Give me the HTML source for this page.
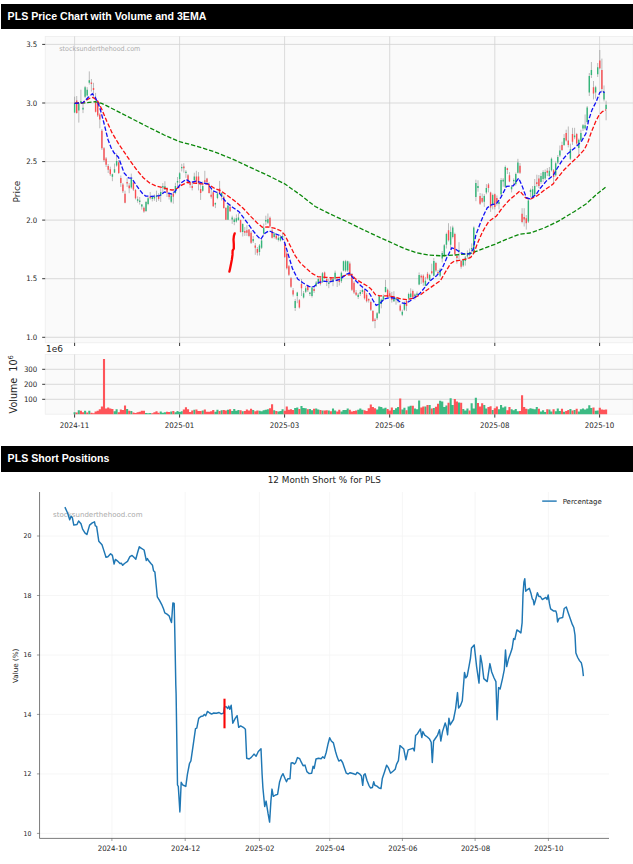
<!DOCTYPE html>
<html lang="en"><head><meta charset="utf-8"><title>PLS</title>
<style>
html,body{margin:0;padding:0;background:#fff;}
body{width:633px;height:864px;position:relative;overflow:hidden;font-family:"Liberation Sans",Arial,sans-serif;}
.hdr{position:absolute;left:1px;width:632px;height:24.6px;background:#000;color:#fff;font-weight:bold;font-size:10.6px;line-height:24.6px;box-sizing:border-box;padding-left:6.6px;white-space:nowrap;}
.h1{top:4px;height:25px;line-height:25px;}
.h2{top:446px;height:26px;line-height:25px;}
svg{position:absolute;left:0;display:block;}
.c1{top:30px;}
.c2{top:472px;}
</style></head><body>
<div class="hdr h1">PLS Price Chart with Volume and 3EMA</div>
<svg class="c1" width="633" height="410" viewBox="0 30 633 410" font-family="DejaVu Sans, Liberation Sans, sans-serif">
<rect x="45.2" y="36.4" width="587.8" height="306.4" fill="#fafafa" stroke="#ececec" stroke-width="0.7"/>
<rect x="45.2" y="354.5" width="587.8" height="59.7" fill="#fafafa" stroke="#ececec" stroke-width="0.7"/>
<path d="M74.6,36.4V342.8M74.6,354.5V414.2M179.6,36.4V342.8M179.6,354.5V414.2M284.6,36.4V342.8M284.6,354.5V414.2M389.7,36.4V342.8M389.7,354.5V414.2M494.8,36.4V342.8M494.8,354.5V414.2M599.6,36.4V342.8M599.6,354.5V414.2M45.2,44.4H633M45.2,103.0H633M45.2,161.6H633M45.2,220.1H633M45.2,278.7H633M45.2,337.3H633" stroke="#d2d2d2" stroke-width="0.8" fill="none"/>
<path d="M45.2,369.3H633M45.2,384.3H633M45.2,399.3H633" stroke="#e0e0e0" stroke-width="1.3" fill="none"/>
<path d="M74.6,342.8v3.2M74.6,414.2v3.4M179.6,342.8v3.2M179.6,414.2v3.4M284.6,342.8v3.2M284.6,414.2v3.4M389.7,342.8v3.2M389.7,414.2v3.4M494.8,342.8v3.2M494.8,414.2v3.4M599.6,342.8v3.2M599.6,414.2v3.4M45.2,44.4h-3M45.2,103.0h-3M45.2,161.6h-3M45.2,220.1h-3M45.2,278.7h-3M45.2,337.3h-3M45.2,369.3h-3M45.2,384.3h-3M45.2,399.3h-3" stroke="#151515" stroke-width="0.85" fill="none"/>
<text x="37.3" y="47.1" font-size="7.56" textLength="11.1" lengthAdjust="spacingAndGlyphs" text-anchor="end" fill="#262626">3.5</text>
<text x="37.3" y="105.7" font-size="7.56" textLength="11.1" lengthAdjust="spacingAndGlyphs" text-anchor="end" fill="#262626">3.0</text>
<text x="37.3" y="164.3" font-size="7.56" textLength="11.1" lengthAdjust="spacingAndGlyphs" text-anchor="end" fill="#262626">2.5</text>
<text x="37.3" y="222.8" font-size="7.56" textLength="11.1" lengthAdjust="spacingAndGlyphs" text-anchor="end" fill="#262626">2.0</text>
<text x="37.3" y="281.4" font-size="7.56" textLength="11.1" lengthAdjust="spacingAndGlyphs" text-anchor="end" fill="#262626">1.5</text>
<text x="37.3" y="340.0" font-size="7.56" textLength="11.1" lengthAdjust="spacingAndGlyphs" text-anchor="end" fill="#262626">1.0</text>
<text x="37.3" y="372.0" font-size="7.56" textLength="13.4" lengthAdjust="spacingAndGlyphs" text-anchor="end" fill="#262626">300</text>
<text x="37.3" y="387.0" font-size="7.56" textLength="13.4" lengthAdjust="spacingAndGlyphs" text-anchor="end" fill="#262626">200</text>
<text x="37.3" y="402.0" font-size="7.56" textLength="13.4" lengthAdjust="spacingAndGlyphs" text-anchor="end" fill="#262626">100</text>
<text x="74.6" y="428.0" font-size="7.61" textLength="29.5" lengthAdjust="spacingAndGlyphs" text-anchor="middle" fill="#262626">2024-11</text>
<text x="179.6" y="428.0" font-size="7.61" textLength="29.5" lengthAdjust="spacingAndGlyphs" text-anchor="middle" fill="#262626">2025-01</text>
<text x="284.6" y="428.0" font-size="7.61" textLength="29.5" lengthAdjust="spacingAndGlyphs" text-anchor="middle" fill="#262626">2025-03</text>
<text x="389.7" y="428.0" font-size="7.61" textLength="29.5" lengthAdjust="spacingAndGlyphs" text-anchor="middle" fill="#262626">2025-06</text>
<text x="494.8" y="428.0" font-size="7.61" textLength="29.5" lengthAdjust="spacingAndGlyphs" text-anchor="middle" fill="#262626">2025-08</text>
<text x="599.6" y="428.0" font-size="7.61" textLength="29.5" lengthAdjust="spacingAndGlyphs" text-anchor="middle" fill="#262626">2025-10</text>
<text x="46" y="352" font-size="9" fill="#262626">1e6</text>
<text transform="translate(20,191.6) rotate(-90)" font-size="9" text-anchor="middle" fill="#262626">Price</text>
<text transform="translate(16.5,384.3) rotate(-90)" font-size="9.6" text-anchor="middle" fill="#262626" xml:space="preserve">Volume  10<tspan dy="-3.6" font-size="6.7">6</tspan></text>
<text x="59.3" y="50.6" font-size="6.9" textLength="81" lengthAdjust="spacingAndGlyphs" fill="#adadad">stocksunderthehood.com</text>
<path d="M74.6,96.7V113.1M76.7,96.0V113.7M78.8,103.0V122.6M80.9,89.7V104.0M83.0,103.6V113.1M85.1,85.9V98.0M87.2,87.2V96.7M89.3,71.4V84.6M91.4,79.0V91.6M93.5,82.8V96.7M95.6,92.9V112.5M97.7,102.0V117.0M99.8,113.0V128.3M101.9,129.0V150.0M104.0,147.0V162.0M106.1,157.0V167.0M108.2,164.0V173.0M110.3,166.7V176.0M112.4,173.6V181.2M114.5,163.5V173.0M116.6,153.4V166.7M118.7,160.0V174.0M120.8,175.5V186.9M122.9,183.0V193.0M125.0,190.7V203.3M127.1,178.0V186.9M129.2,183.1V193.2M131.3,173.6V188.8M133.4,181.0V191.0M135.5,189.0V199.5M137.6,196.4V202.7M139.7,197.0V204.6M141.8,204.0V209.6M143.9,206.5V212.8M146.0,201.0V212.0M148.1,197.0V205.2M150.2,192.0V199.5M152.3,195.7V201.4M154.4,194.5V200.8M156.5,190.7V202.0M158.6,193.2V200.8M160.7,188.2V202.0M162.8,183.1V193.2M164.9,181.2V190.0M167.0,187.0V197.0M169.1,192.0V199.5M171.2,192.9V203.1M173.3,191.7V203.7M175.4,182.8V194.2M177.5,177.0V188.0M179.6,172.1V183.4M181.7,163.8V171.4M183.8,163.2V172.7M185.9,170.2V177.8M188.0,174.0V183.4M190.1,182.8V187.9M192.2,182.2V190.4M194.3,172.7V180.9M196.4,170.8V183.4M198.5,172.1V190.4M200.6,183.4V199.9M202.7,181.5V191.7M204.8,170.8V183.4M207.0,177.8V183.4M209.1,182.2V193.6M211.2,189.1V198.6M213.3,191.0V206.8M215.4,202.4V208.1M217.5,191.7V199.2M219.6,180.9V192.9M221.7,192.3V200.5M223.8,195.5V208.7M225.9,207.0V220.0M228.0,203.7V220.0M230.1,204.3V211.9M232.2,215.7V223.9M234.3,217.6V225.2M236.4,214.4V222.6M238.5,213.2V220.7M240.6,219.5V232.7M242.7,223.3V236.5M244.8,227.1V235.9M246.9,225.2V235.9M249.0,229.0V237.2M251.1,231.0V244.0M253.2,236.0V243.0M255.3,243.0V254.8M257.4,247.0V255.5M259.5,244.0V255.5M261.6,239.0V249.0M263.7,223.5V234.9M265.8,215.7V224.9M267.9,213.5V224.0M270.0,216.5V227.5M272.1,229.0V238.5M274.2,232.0V238.5M276.3,234.0V239.9M278.4,236.0V241.5M280.5,235.0V241.5M282.6,232.7V239.1M284.7,242.0V258.0M286.8,252.0V269.5M288.9,265.0V276.0M291.0,277.0V288.0M293.1,288.0V296.5M295.2,298.9V311.0M297.3,291.8V303.2M299.4,299.0V308.5M301.5,279.0V296.0M303.6,291.0V298.5M305.7,286.0V293.0M307.8,285.0V292.0M309.9,291.8V296.0M312.0,286.0V297.5M314.1,287.0V293.0M316.2,281.0V287.0M318.3,277.5V284.0M320.4,277.0V285.5M322.5,272.0V283.0M324.6,271.5V279.0M326.7,277.5V286.1M328.8,279.0V288.2M330.9,277.5V282.5M333.0,278.4V286.2M335.1,270.6V280.0M337.2,278.4V287.0M339.3,278.4V285.5M341.4,271.5V283.0M343.5,260.6V271.3M345.6,259.9V272.0M347.7,260.6V272.0M349.8,261.5V275.0M351.9,273.0V291.0M354.0,281.0V294.0M356.1,290.0V296.0M358.2,293.0V299.0M360.3,290.0V296.0M362.4,288.4V294.0M364.5,289.0V299.5M366.6,293.0V302.5M368.7,298.3V302.6M370.8,300.5V311.0M372.9,310.0V322.0M375.0,318.0V328.2M377.1,312.0V320.0M379.2,295.0V314.0M381.3,298.5V308.3M383.4,294.5V301.0M385.5,279.8V292.6M387.6,288.5V298.0M389.7,291.2V298.0M391.8,291.9V302.6M393.9,291.2V302.0M396.0,296.9V304.7M398.1,297.5V303.0M400.2,304.0V311.5M402.3,309.7V316.1M404.4,301.5V311.0M406.5,300.0V311.1M408.6,292.7V302.2M410.7,288.3V297.8M412.8,289.5V298.3M414.9,293.4V299.7M417.0,291.5V296.5M419.1,272.5V285.2M421.2,274.4V283.9M423.3,274.4V285.8M425.4,276.9V286.4M427.5,271.9V279.5M429.6,273.8V281.4M431.7,263.7V274.4M433.8,258.0V276.3M435.9,261.8V271.9M438.0,270.0V275.0M440.1,268.0V277.0M442.2,251.0V262.4M444.3,244.0V257.0M446.4,232.7V248.5M448.5,223.2V241.5M450.6,226.4V249.8M452.7,225.7V238.4M454.8,232.7V255.5M456.9,254.2V263.7M459.0,242.2V259.2M461.1,259.9V268.7M463.2,258.6V267.0M465.3,256.0V265.6M467.4,250.4V258.6M469.6,248.5V256.7M471.7,243.4V252.9M473.8,226.4V252.5M475.9,179.7V201.2M478.0,180.3V191.7M480.1,193.0V205.0M482.2,193.6V203.1M484.3,194.2V206.9M486.4,184.1V194.2M488.5,183.1V192.4M490.6,191.7V211.9M492.7,193.6V209.4M494.8,193.6V209.4M496.9,195.5V205.6M499.0,200.6V209.4M501.1,178.0V196.0M503.2,178.0V186.7M505.3,165.5V188.0M507.4,167.7V174.0M509.5,172.1V182.2M511.6,185.4V192.4M513.7,178.4V186.0M515.8,172.5V185.5M517.9,158.8V173.5M520.0,163.0V174.0M522.1,208.2V223.3M524.2,208.2V226.5M526.3,215.0V229.6M528.4,199.0V223.0M530.5,188.6V197.4M532.6,186.0V198.0M534.7,179.0V195.5M536.8,174.7V186.7M538.9,175.0V188.0M541.0,173.0V184.0M543.1,170.2V182.2M545.2,169.5V180.0M547.3,168.0V176.0M549.4,167.0V177.0M551.5,157.5V171.5M553.6,169.0V182.2M555.7,161.5V176.5M557.8,155.0V164.0M559.9,145.5V157.0M562.0,141.7V151.0M564.1,134.1V146.0M566.2,129.7V141.5M568.3,126.5V147.4M570.4,143.6V160.0M572.5,127.8V144.9M574.6,127.8V139.2M576.7,132.9V145.0M578.8,138.5V155.6M580.9,129.7V141.5M583.0,124.0V131.0M585.1,114.5V130.0M587.2,106.0V123.5M589.3,73.0V96.0M591.4,62.0V78.0M593.5,81.0V99.4M595.6,85.8V98.6M597.7,63.0V77.0M599.8,50.0V69.2M601.9,58.6V92.0M604.0,85.5V101.4M606.1,100.7V120.3" stroke="#7c7c7c" stroke-width="0.5" fill="none"/>
<path d="M73.90,103.6h1.4V112.5h-1.4zM78.10,103.6h1.4V110.6h-1.4zM80.20,101.0h1.4V103.0h-1.4zM82.30,107.8h1.4V109.6h-1.4zM84.40,87.2h1.4V96.7h-1.4zM86.50,89.7h1.4V95.4h-1.4zM88.61,80.2h1.4V82.8h-1.4zM111.71,174.2h1.4V176.8h-1.4zM113.82,169.2h1.4V172.4h-1.4zM115.92,161.0h1.4V165.4h-1.4zM130.62,178.7h1.4V187.5h-1.4zM136.92,199.3h1.4V200.8h-1.4zM139.02,200.5h1.4V202.0h-1.4zM141.13,204.6h1.4V206.5h-1.4zM145.33,202.0h1.4V210.9h-1.4zM147.43,198.3h1.4V204.0h-1.4zM151.63,197.0h1.4V198.9h-1.4zM153.73,197.0h1.4V198.5h-1.4zM155.83,195.5h1.4V197.0h-1.4zM160.03,192.0h1.4V195.7h-1.4zM162.13,186.0h1.4V187.5h-1.4zM164.23,186.3h1.4V189.4h-1.4zM170.54,195.5h1.4V201.8h-1.4zM174.74,186.0h1.4V192.9h-1.4zM176.84,181.0h1.4V182.5h-1.4zM178.94,173.3h1.4V179.0h-1.4zM181.04,167.0h1.4V168.3h-1.4zM185.24,171.8h1.4V173.0h-1.4zM193.65,176.5h1.4V180.3h-1.4zM202.05,186.0h1.4V190.7h-1.4zM214.65,203.0h1.4V204.5h-1.4zM216.75,193.6h1.4V198.0h-1.4zM220.96,193.0h1.4V196.7h-1.4zM227.26,205.6h1.4V219.7h-1.4zM231.46,217.6h1.4V219.5h-1.4zM233.56,219.5h1.4V222.0h-1.4zM235.66,218.2h1.4V221.4h-1.4zM237.76,217.6h1.4V220.1h-1.4zM241.96,223.9h1.4V232.1h-1.4zM252.47,239.1h1.4V241.3h-1.4zM258.77,245.5h1.4V252.0h-1.4zM260.87,240.6h1.4V247.7h-1.4zM262.97,227.8h1.4V233.4h-1.4zM265.07,220.0h1.4V221.5h-1.4zM267.17,219.2h1.4V222.8h-1.4zM273.48,233.4h1.4V237.0h-1.4zM277.68,237.7h1.4V239.9h-1.4zM279.78,237.0h1.4V240.6h-1.4zM281.88,236.0h1.4V237.5h-1.4zM294.48,301.0h1.4V308.1h-1.4zM296.58,292.5h1.4V296.0h-1.4zM302.89,293.2h1.4V297.5h-1.4zM304.99,288.2h1.4V291.8h-1.4zM309.19,292.5h1.4V294.0h-1.4zM311.29,287.5h1.4V296.0h-1.4zM315.49,282.5h1.4V285.4h-1.4zM317.59,279.0h1.4V282.5h-1.4zM321.79,273.3h1.4V281.8h-1.4zM328.10,282.5h1.4V284.0h-1.4zM332.30,279.0h1.4V281.5h-1.4zM334.40,272.7h1.4V278.4h-1.4zM340.70,272.7h1.4V281.2h-1.4zM342.80,261.3h1.4V270.6h-1.4zM344.90,261.3h1.4V270.6h-1.4zM347.00,261.3h1.4V270.6h-1.4zM357.51,294.8h1.4V296.9h-1.4zM359.61,291.9h1.4V294.0h-1.4zM361.71,290.0h1.4V292.0h-1.4zM376.42,313.2h1.4V318.2h-1.4zM378.52,296.2h1.4V313.2h-1.4zM380.62,299.8h1.4V304.0h-1.4zM382.72,296.2h1.4V299.8h-1.4zM384.82,286.9h1.4V291.9h-1.4zM393.22,297.6h1.4V301.2h-1.4zM395.32,298.0h1.4V299.5h-1.4zM397.42,299.0h1.4V301.2h-1.4zM401.62,311.8h1.4V314.7h-1.4zM403.73,302.6h1.4V309.7h-1.4zM407.93,294.0h1.4V298.4h-1.4zM410.03,293.4h1.4V297.2h-1.4zM414.23,294.6h1.4V296.0h-1.4zM416.33,293.4h1.4V295.3h-1.4zM418.43,275.0h1.4V284.5h-1.4zM424.73,280.7h1.4V285.8h-1.4zM428.94,275.0h1.4V280.1h-1.4zM433.14,261.1h1.4V275.7h-1.4zM439.44,269.4h1.4V275.7h-1.4zM441.54,252.9h1.4V258.6h-1.4zM443.64,245.3h1.4V255.5h-1.4zM445.74,234.0h1.4V244.7h-1.4zM449.94,232.1h1.4V244.7h-1.4zM452.04,227.6h1.4V237.1h-1.4zM458.35,250.0h1.4V251.5h-1.4zM462.55,259.9h1.4V265.6h-1.4zM464.65,257.4h1.4V261.1h-1.4zM466.75,255.0h1.4V256.5h-1.4zM468.85,252.0h1.4V253.5h-1.4zM470.95,248.0h1.4V249.5h-1.4zM473.05,227.6h1.4V251.7h-1.4zM475.15,183.1h1.4V197.0h-1.4zM477.25,186.0h1.4V188.0h-1.4zM483.56,196.1h1.4V201.8h-1.4zM485.66,187.9h1.4V192.4h-1.4zM491.96,194.9h1.4V204.4h-1.4zM498.26,202.0h1.4V204.0h-1.4zM500.36,180.1h1.4V194.2h-1.4zM502.46,179.7h1.4V181.5h-1.4zM504.56,167.1h1.4V186.7h-1.4zM510.87,186.7h1.4V189.2h-1.4zM512.97,180.0h1.4V181.2h-1.4zM515.07,174.0h1.4V184.1h-1.4zM517.17,162.6h1.4V172.8h-1.4zM527.67,200.6h1.4V221.4h-1.4zM529.77,190.0h1.4V192.0h-1.4zM531.87,189.2h1.4V196.8h-1.4zM533.98,186.0h1.4V194.2h-1.4zM540.28,176.0h1.4V182.0h-1.4zM542.38,172.1h1.4V179.0h-1.4zM544.48,172.1h1.4V178.4h-1.4zM548.68,170.8h1.4V175.9h-1.4zM550.78,158.8h1.4V170.2h-1.4zM554.98,163.2h1.4V175.2h-1.4zM557.08,156.9h1.4V162.6h-1.4zM559.18,150.6h1.4V155.6h-1.4zM563.39,137.9h1.4V144.9h-1.4zM569.69,149.3h1.4V158.8h-1.4zM573.89,135.4h1.4V137.3h-1.4zM578.09,139.8h1.4V148.0h-1.4zM580.19,132.9h1.4V140.5h-1.4zM582.29,125.3h1.4V128.4h-1.4zM584.39,125.3h1.4V128.4h-1.4zM586.50,107.6h1.4V122.1h-1.4zM588.60,76.0h1.4V92.5h-1.4zM590.70,70.0h1.4V75.0h-1.4zM594.90,87.3h1.4V92.5h-1.4zM597.00,67.3h1.4V74.3h-1.4zM603.30,91.6h1.4V99.4h-1.4zM605.40,104.7h1.4V109.0h-1.4z" fill="#33b679"/>
<path d="M76.00,100.5h1.4V113.1h-1.4zM90.71,82.5h1.4V84.0h-1.4zM92.81,88.0h1.4V90.0h-1.4zM94.91,101.7h1.4V111.8h-1.4zM97.01,103.6h1.4V115.6h-1.4zM99.11,114.4h1.4V119.4h-1.4zM101.21,130.8h1.4V148.3h-1.4zM103.31,148.3h1.4V160.3h-1.4zM105.41,158.4h1.4V164.8h-1.4zM107.51,166.0h1.4V169.8h-1.4zM109.61,169.2h1.4V174.2h-1.4zM118.02,162.2h1.4V173.0h-1.4zM120.12,178.0h1.4V183.1h-1.4zM122.22,184.4h1.4V191.3h-1.4zM124.32,193.8h1.4V202.7h-1.4zM126.42,182.0h1.4V183.5h-1.4zM128.52,185.6h1.4V188.2h-1.4zM132.72,182.5h1.4V189.4h-1.4zM134.82,190.0h1.4V198.3h-1.4zM143.23,207.7h1.4V211.5h-1.4zM149.53,196.4h1.4V198.3h-1.4zM157.93,195.7h1.4V198.9h-1.4zM166.34,188.2h1.4V192.6h-1.4zM168.44,193.2h1.4V197.0h-1.4zM172.64,193.6h1.4V196.7h-1.4zM183.14,166.4h1.4V168.3h-1.4zM187.34,175.2h1.4V182.2h-1.4zM189.44,183.5h1.4V185.0h-1.4zM191.54,186.0h1.4V188.1h-1.4zM195.75,176.5h1.4V182.2h-1.4zM197.85,176.5h1.4V183.4h-1.4zM199.95,189.1h1.4V192.9h-1.4zM204.15,180.3h1.4V182.2h-1.4zM206.25,178.4h1.4V182.2h-1.4zM208.35,184.7h1.4V192.9h-1.4zM210.45,194.8h1.4V196.7h-1.4zM212.55,192.3h1.4V206.2h-1.4zM218.86,188.5h1.4V192.9h-1.4zM223.06,196.7h1.4V208.1h-1.4zM225.16,208.1h1.4V219.7h-1.4zM229.36,206.8h1.4V211.3h-1.4zM239.86,220.1h1.4V232.1h-1.4zM244.06,230.9h1.4V232.7h-1.4zM246.17,230.2h1.4V232.7h-1.4zM248.27,229.6h1.4V235.9h-1.4zM250.37,232.7h1.4V242.7h-1.4zM254.57,245.5h1.4V247.7h-1.4zM256.67,249.1h1.4V252.7h-1.4zM269.27,217.8h1.4V226.3h-1.4zM271.38,230.6h1.4V237.7h-1.4zM275.58,235.6h1.4V238.4h-1.4zM283.98,243.4h1.4V256.9h-1.4zM286.08,253.4h1.4V268.3h-1.4zM288.18,266.2h1.4V274.7h-1.4zM290.28,278.2h1.4V286.8h-1.4zM292.38,290.3h1.4V294.6h-1.4zM298.69,300.3h1.4V307.4h-1.4zM300.79,283.9h1.4V288.2h-1.4zM307.09,286.1h1.4V290.3h-1.4zM313.39,288.9h1.4V291.0h-1.4zM319.69,278.2h1.4V284.0h-1.4zM323.90,272.6h1.4V277.5h-1.4zM326.00,279.0h1.4V281.0h-1.4zM330.20,278.2h1.4V280.4h-1.4zM336.50,279.0h1.4V281.0h-1.4zM338.60,279.5h1.4V282.0h-1.4zM349.10,263.5h1.4V274.1h-1.4zM351.21,274.1h1.4V289.8h-1.4zM353.31,282.7h1.4V292.6h-1.4zM355.41,292.6h1.4V294.8h-1.4zM363.81,290.5h1.4V298.3h-1.4zM365.91,294.8h1.4V301.2h-1.4zM368.01,299.0h1.4V300.5h-1.4zM370.11,301.9h1.4V309.7h-1.4zM372.21,311.1h1.4V321.1h-1.4zM374.31,319.5h1.4V321.0h-1.4zM386.92,289.8h1.4V296.9h-1.4zM389.02,293.3h1.4V296.2h-1.4zM391.12,296.9h1.4V299.8h-1.4zM399.52,305.4h1.4V310.4h-1.4zM405.83,301.0h1.4V306.0h-1.4zM412.13,290.9h1.4V297.2h-1.4zM420.53,275.7h1.4V277.6h-1.4zM422.63,275.7h1.4V282.6h-1.4zM426.83,273.8h1.4V278.2h-1.4zM431.04,271.3h1.4V273.2h-1.4zM435.24,263.0h1.4V270.6h-1.4zM437.34,271.9h1.4V273.2h-1.4zM447.84,230.2h1.4V240.3h-1.4zM454.14,234.0h1.4V254.2h-1.4zM456.25,256.1h1.4V258.0h-1.4zM460.45,261.1h1.4V266.8h-1.4zM479.35,196.1h1.4V203.7h-1.4zM481.46,198.0h1.4V201.8h-1.4zM487.76,184.4h1.4V187.9h-1.4zM489.86,192.4h1.4V207.5h-1.4zM494.06,194.2h1.4V206.9h-1.4zM496.16,198.0h1.4V202.5h-1.4zM506.66,168.3h1.4V170.0h-1.4zM508.77,175.3h1.4V181.6h-1.4zM519.27,165.8h1.4V172.8h-1.4zM521.37,213.8h1.4V222.1h-1.4zM523.47,217.0h1.4V219.5h-1.4zM525.57,218.3h1.4V223.3h-1.4zM536.08,182.2h1.4V184.1h-1.4zM538.18,178.4h1.4V186.0h-1.4zM546.58,170.8h1.4V172.7h-1.4zM552.88,170.2h1.4V177.1h-1.4zM561.29,144.9h1.4V149.9h-1.4zM565.49,132.9h1.4V140.5h-1.4zM567.59,140.5h1.4V144.9h-1.4zM571.79,134.1h1.4V141.7h-1.4zM575.99,134.1h1.4V143.6h-1.4zM592.80,87.3h1.4V93.4h-1.4zM599.10,60.4h1.4V68.2h-1.4zM601.20,70.0h1.4V89.0h-1.4z" fill="#fc4e52"/>
<path d="M73.55,414.2v-1.9h2.1v1.9zM77.75,414.2v-3.9h2.1v3.9zM84.05,414.2v-3.5h2.1v3.5zM88.26,414.2v-3.5h2.1v3.5zM113.47,414.2v-3.0h2.1v3.0zM115.57,414.2v-5.0h2.1v5.0zM126.07,414.2v-5.3h2.1v5.3zM130.27,414.2v-3.2h2.1v3.2zM144.98,414.2v-1.3h2.1v1.3zM147.08,414.2v-0.9h2.1v0.9zM149.18,414.2v-1.3h2.1v1.3zM159.68,414.2v-2.6h2.1v2.6zM161.78,414.2v-1.5h2.1v1.5zM163.88,414.2v-2.0h2.1v2.0zM170.19,414.2v-2.7h2.1v2.7zM174.39,414.2v-2.0h2.1v2.0zM176.49,414.2v-3.2h2.1v3.2zM178.59,414.2v-2.3h2.1v2.3zM180.69,414.2v-2.9h2.1v2.9zM193.30,414.2v-4.5h2.1v4.5zM201.70,414.2v-3.7h2.1v3.7zM214.30,414.2v-2.4h2.1v2.4zM216.40,414.2v-4.5h2.1v4.5zM220.61,414.2v-4.0h2.1v4.0zM226.91,414.2v-4.5h2.1v4.5zM231.11,414.2v-3.3h2.1v3.3zM233.21,414.2v-5.3h2.1v5.3zM235.31,414.2v-3.4h2.1v3.4zM237.41,414.2v-4.3h2.1v4.3zM241.61,414.2v-3.0h2.1v3.0zM252.12,414.2v-4.1h2.1v4.1zM258.42,414.2v-3.4h2.1v3.4zM260.52,414.2v-2.9h2.1v2.9zM262.62,414.2v-4.0h2.1v4.0zM264.72,414.2v-4.4h2.1v4.4zM266.82,414.2v-5.0h2.1v5.0zM273.13,414.2v-3.9h2.1v3.9zM277.33,414.2v-2.8h2.1v2.8zM279.43,414.2v-3.1h2.1v3.1zM281.53,414.2v-4.9h2.1v4.9zM294.13,414.2v-6.2h2.1v6.2zM296.23,414.2v-6.6h2.1v6.6zM300.44,414.2v-8.2h2.1v8.2zM302.54,414.2v-6.3h2.1v6.3zM304.64,414.2v-6.0h2.1v6.0zM308.84,414.2v-5.1h2.1v5.1zM310.94,414.2v-4.0h2.1v4.0zM315.14,414.2v-5.6h2.1v5.6zM317.24,414.2v-4.6h2.1v4.6zM321.44,414.2v-3.7h2.1v3.7zM327.75,414.2v-3.7h2.1v3.7zM331.95,414.2v-5.7h2.1v5.7zM334.05,414.2v-3.8h2.1v3.8zM340.35,414.2v-2.7h2.1v2.7zM342.45,414.2v-4.3h2.1v4.3zM344.55,414.2v-4.2h2.1v4.2zM346.65,414.2v-5.6h2.1v5.6zM357.16,414.2v-4.5h2.1v4.5zM359.26,414.2v-5.6h2.1v5.6zM361.36,414.2v-4.4h2.1v4.4zM376.07,414.2v-4.7h2.1v4.7zM378.17,414.2v-7.6h2.1v7.6zM380.27,414.2v-7.2h2.1v7.2zM382.37,414.2v-5.7h2.1v5.7zM384.47,414.2v-6.4h2.1v6.4zM392.87,414.2v-4.3h2.1v4.3zM394.97,414.2v-5.9h2.1v5.9zM397.07,414.2v-7.1h2.1v7.1zM401.27,414.2v-4.7h2.1v4.7zM403.38,414.2v-6.5h2.1v6.5zM407.58,414.2v-7.8h2.1v7.8zM409.68,414.2v-8.5h2.1v8.5zM413.88,414.2v-5.6h2.1v5.6zM415.98,414.2v-5.0h2.1v5.0zM418.08,414.2v-13.6h2.1v13.6zM424.38,414.2v-7.8h2.1v7.8zM428.59,414.2v-9.2h2.1v9.2zM432.79,414.2v-6.2h2.1v6.2zM439.09,414.2v-13.5h2.1v13.5zM441.19,414.2v-12.8h2.1v12.8zM443.29,414.2v-7.3h2.1v7.3zM445.39,414.2v-8.8h2.1v8.8zM449.59,414.2v-15.9h2.1v15.9zM451.69,414.2v-9.2h2.1v9.2zM458.00,414.2v-11.8h2.1v11.8zM462.20,414.2v-5.2h2.1v5.2zM464.30,414.2v-3.8h2.1v3.8zM466.40,414.2v-5.7h2.1v5.7zM470.60,414.2v-11.0h2.1v11.0zM472.70,414.2v-5.6h2.1v5.6zM474.80,414.2v-16.5h2.1v16.5zM483.21,414.2v-9.2h2.1v9.2zM485.31,414.2v-5.7h2.1v5.7zM491.61,414.2v-4.3h2.1v4.3zM497.91,414.2v-5.0h2.1v5.0zM500.01,414.2v-9.1h2.1v9.1zM502.11,414.2v-6.6h2.1v6.6zM504.21,414.2v-7.8h2.1v7.8zM510.52,414.2v-5.0h2.1v5.0zM512.62,414.2v-4.0h2.1v4.0zM514.72,414.2v-5.1h2.1v5.1zM516.82,414.2v-2.9h2.1v2.9zM527.32,414.2v-5.0h2.1v5.0zM529.42,414.2v-5.9h2.1v5.9zM531.52,414.2v-5.4h2.1v5.4zM533.63,414.2v-5.0h2.1v5.0zM535.73,414.2v-7.3h2.1v7.3zM539.93,414.2v-2.7h2.1v2.7zM542.03,414.2v-4.0h2.1v4.0zM544.13,414.2v-2.3h2.1v2.3zM548.33,414.2v-4.7h2.1v4.7zM550.43,414.2v-2.7h2.1v2.7zM554.63,414.2v-2.9h2.1v2.9zM556.73,414.2v-5.8h2.1v5.8zM558.83,414.2v-3.1h2.1v3.1zM563.04,414.2v-2.5h2.1v2.5zM569.34,414.2v-5.1h2.1v5.1zM573.54,414.2v-4.3h2.1v4.3zM577.74,414.2v-2.6h2.1v2.6zM579.84,414.2v-5.0h2.1v5.0zM581.94,414.2v-5.6h2.1v5.6zM584.04,414.2v-4.8h2.1v4.8zM586.15,414.2v-5.6h2.1v5.6zM588.25,414.2v-9.0h2.1v9.0zM590.35,414.2v-6.1h2.1v6.1zM594.55,414.2v-3.5h2.1v3.5zM596.65,414.2v-3.6h2.1v3.6z" fill="#3cba83"/>
<path d="M75.65,414.2v-1.6h2.1v1.6zM79.85,414.2v-3.5h2.1v3.5zM81.95,414.2v-1.9h2.1v1.9zM86.15,414.2v-1.6h2.1v1.6zM90.36,414.2v-1.4h2.1v1.4zM92.46,414.2v-1.0h2.1v1.0zM94.56,414.2v-2.8h2.1v2.8zM96.66,414.2v-3.5h2.1v3.5zM98.76,414.2v-5.0h2.1v5.0zM100.86,414.2v-7.6h2.1v7.6zM102.96,414.2v-55.3h2.1v55.3zM105.06,414.2v-5.6h2.1v5.6zM107.16,414.2v-6.6h2.1v6.6zM109.26,414.2v-5.6h2.1v5.6zM111.36,414.2v-5.2h2.1v5.2zM117.67,414.2v-2.0h2.1v2.0zM119.77,414.2v-4.6h2.1v4.6zM121.87,414.2v-4.2h2.1v4.2zM123.97,414.2v-8.7h2.1v8.7zM128.17,414.2v-3.4h2.1v3.4zM132.37,414.2v-1.6h2.1v1.6zM134.47,414.2v-1.3h2.1v1.3zM136.57,414.2v-1.9h2.1v1.9zM138.67,414.2v-2.4h2.1v2.4zM140.78,414.2v-3.4h2.1v3.4zM142.88,414.2v-3.4h2.1v3.4zM151.28,414.2v-0.9h2.1v0.9zM153.38,414.2v-1.9h2.1v1.9zM155.48,414.2v-3.0h2.1v3.0zM157.58,414.2v-1.5h2.1v1.5zM165.99,414.2v-2.5h2.1v2.5zM168.09,414.2v-2.3h2.1v2.3zM172.29,414.2v-3.2h2.1v3.2zM182.79,414.2v-4.6h2.1v4.6zM184.89,414.2v-6.9h2.1v6.9zM186.99,414.2v-4.9h2.1v4.9zM189.09,414.2v-2.3h2.1v2.3zM191.19,414.2v-3.8h2.1v3.8zM195.40,414.2v-4.6h2.1v4.6zM197.50,414.2v-3.2h2.1v3.2zM199.60,414.2v-3.2h2.1v3.2zM203.80,414.2v-4.6h2.1v4.6zM205.90,414.2v-2.4h2.1v2.4zM208.00,414.2v-2.4h2.1v2.4zM210.10,414.2v-3.0h2.1v3.0zM212.20,414.2v-4.3h2.1v4.3zM218.51,414.2v-3.1h2.1v3.1zM222.71,414.2v-4.3h2.1v4.3zM224.81,414.2v-3.6h2.1v3.6zM229.01,414.2v-5.0h2.1v5.0zM239.51,414.2v-3.9h2.1v3.9zM243.71,414.2v-3.3h2.1v3.3zM245.82,414.2v-4.8h2.1v4.8zM247.92,414.2v-3.7h2.1v3.7zM250.02,414.2v-5.5h2.1v5.5zM254.22,414.2v-3.0h2.1v3.0zM256.32,414.2v-3.8h2.1v3.8zM268.92,414.2v-6.0h2.1v6.0zM271.03,414.2v-10.0h2.1v10.0zM275.23,414.2v-3.3h2.1v3.3zM283.63,414.2v-3.5h2.1v3.5zM285.73,414.2v-7.6h2.1v7.6zM287.83,414.2v-4.4h2.1v4.4zM289.93,414.2v-4.9h2.1v4.9zM292.03,414.2v-4.2h2.1v4.2zM298.34,414.2v-5.1h2.1v5.1zM306.74,414.2v-4.9h2.1v4.9zM313.04,414.2v-5.4h2.1v5.4zM319.34,414.2v-4.2h2.1v4.2zM323.55,414.2v-3.6h2.1v3.6zM325.65,414.2v-3.9h2.1v3.9zM329.85,414.2v-3.0h2.1v3.0zM336.15,414.2v-2.7h2.1v2.7zM338.25,414.2v-4.4h2.1v4.4zM348.75,414.2v-4.4h2.1v4.4zM350.86,414.2v-2.6h2.1v2.6zM352.96,414.2v-3.1h2.1v3.1zM355.06,414.2v-3.6h2.1v3.6zM363.46,414.2v-4.0h2.1v4.0zM365.56,414.2v-3.3h2.1v3.3zM367.66,414.2v-5.9h2.1v5.9zM369.76,414.2v-9.8h2.1v9.8zM371.86,414.2v-7.3h2.1v7.3zM373.96,414.2v-5.9h2.1v5.9zM386.57,414.2v-5.3h2.1v5.3zM388.67,414.2v-3.8h2.1v3.8zM390.77,414.2v-6.6h2.1v6.6zM399.17,414.2v-15.6h2.1v15.6zM405.48,414.2v-3.9h2.1v3.9zM411.78,414.2v-8.4h2.1v8.4zM420.18,414.2v-6.8h2.1v6.8zM422.28,414.2v-7.8h2.1v7.8zM426.48,414.2v-9.2h2.1v9.2zM430.69,414.2v-5.8h2.1v5.8zM434.89,414.2v-7.5h2.1v7.5zM436.99,414.2v-10.5h2.1v10.5zM447.49,414.2v-11.4h2.1v11.4zM453.79,414.2v-15.2h2.1v15.2zM455.90,414.2v-12.8h2.1v12.8zM460.10,414.2v-11.4h2.1v11.4zM468.50,414.2v-3.8h2.1v3.8zM476.90,414.2v-11.3h2.1v11.3zM479.00,414.2v-7.6h2.1v7.6zM481.11,414.2v-11.0h2.1v11.0zM487.41,414.2v-7.1h2.1v7.1zM489.51,414.2v-8.0h2.1v8.0zM493.71,414.2v-5.9h2.1v5.9zM495.81,414.2v-7.8h2.1v7.8zM506.31,414.2v-4.0h2.1v4.0zM508.42,414.2v-7.1h2.1v7.1zM518.92,414.2v-3.3h2.1v3.3zM521.02,414.2v-18.9h2.1v18.9zM523.12,414.2v-7.3h2.1v7.3zM525.22,414.2v-5.4h2.1v5.4zM537.83,414.2v-5.4h2.1v5.4zM546.23,414.2v-4.9h2.1v4.9zM552.53,414.2v-4.9h2.1v4.9zM560.94,414.2v-5.5h2.1v5.5zM565.14,414.2v-3.2h2.1v3.2zM567.24,414.2v-4.2h2.1v4.2zM571.44,414.2v-3.6h2.1v3.6zM575.64,414.2v-5.4h2.1v5.4zM592.45,414.2v-6.6h2.1v6.6zM598.75,414.2v-6.5h2.1v6.5zM600.85,414.2v-4.6h2.1v4.6zM602.95,414.2v-4.4h2.1v4.4zM605.05,414.2v-4.8h2.1v4.8z" fill="#fe5459"/>
<path d="M74.6,103.3 L85.0,102.8 L95.4,101.7 L101.7,103.3 L122.5,113.8 L143.3,124.6 L164.2,135.0 L179.6,141.6 L196.0,146.0 L214.3,151.8 L232.5,159.0 L248.1,166.4 L266.4,174.7 L284.6,183.8 L300.2,194.8 L315.2,206.5 L330.3,214.1 L345.5,221.0 L360.7,228.5 L375.8,235.6 L389.7,241.9 L403.6,248.2 L416.3,252.8 L428.9,255.1 L441.6,255.8 L455.2,255.0 L470.5,253.5 L482.7,248.9 L494.9,244.3 L507.1,239.1 L519.3,234.3 L529.9,233.0 L543.7,228.2 L558.9,220.9 L574.1,211.7 L586.3,203.8 L597.0,194.0 L605.5,187.3" stroke="#0a880a" stroke-width="1.3" stroke-dasharray="4.4,1.9" fill="none"/>
<path d="M74.6,103.3 L82.9,102.7 L89.2,98.5 L92.9,97.5 L97.5,100.6 L101.7,109.0 L106.9,121.5 L112.1,132.9 L118.3,143.3 L124.6,152.7 L130.8,161.7 L137.1,170.4 L143.3,177.7 L149.6,182.9 L155.8,186.0 L162.1,187.5 L168.3,189.2 L172.0,190.0 L175.2,189.8 L181.7,185.1 L186.9,182.5 L193.4,183.0 L201.2,183.8 L207.8,183.8 L214.3,188.2 L220.8,190.8 L227.3,195.5 L235.1,201.2 L242.9,208.0 L250.7,216.4 L257.2,222.9 L262.4,227.3 L267.7,226.8 L274.2,228.1 L280.7,230.7 L284.6,234.6 L289.8,245.0 L295.0,255.4 L300.2,262.8 L305.0,267.2 L311.4,273.0 L317.7,276.6 L325.3,277.3 L332.9,277.8 L340.4,277.3 L346.8,274.8 L351.8,274.8 L355.0,278.5 L358.1,280.6 L362.7,283.4 L366.5,285.5 L370.5,288.4 L373.0,291.5 L375.5,294.8 L379.8,295.9 L386.9,295.9 L394.0,296.9 L401.1,299.0 L406.8,299.7 L412.5,298.3 L416.5,296.7 L421.3,294.3 L424.0,292.1 L430.3,287.7 L436.6,283.3 L440.4,280.7 L445.5,271.9 L450.5,263.7 L454.3,261.1 L459.4,260.3 L465.7,259.2 L470.7,257.4 L473.9,252.9 L477.7,242.8 L482.1,232.7 L485.0,227.5 L488.8,221.5 L496.4,216.0 L502.5,207.7 L508.6,200.7 L514.7,195.5 L519.9,191.0 L525.4,197.7 L529.9,199.5 L537.6,195.5 L545.2,189.5 L552.8,184.3 L556.4,179.3 L564.2,169.8 L571.2,162.8 L578.1,156.4 L584.2,149.8 L587.7,142.8 L591.2,132.4 L595.5,122.0 L599.0,115.1 L602.4,111.6 L605.9,109.9" stroke="#fa1010" stroke-width="1.3" stroke-dasharray="4.4,1.9" fill="none"/>
<path d="M74.6,103.3 L82.9,102.7 L88.1,97.5 L92.3,93.8 L95.4,97.5 L99.6,106.9 L103.8,122.5 L107.9,139.2 L111.0,147.5 L114.0,152.8 L118.4,157.2 L121.3,165.0 L124.1,173.0 L128.5,177.8 L131.7,178.2 L135.5,184.0 L139.2,189.4 L142.5,193.5 L145.6,196.0 L151.9,196.4 L159.5,195.7 L164.5,192.0 L168.3,193.2 L171.5,194.0 L175.0,191.5 L178.0,187.5 L181.7,182.5 L186.1,179.4 L190.8,182.5 L196.0,181.2 L202.6,183.0 L207.8,183.8 L213.0,190.8 L219.5,193.4 L226.0,202.0 L232.5,207.2 L239.0,211.7 L245.5,220.3 L252.0,229.4 L257.2,235.9 L260.6,239.3 L265.0,233.3 L269.0,230.7 L274.2,233.3 L280.7,235.9 L284.6,242.4 L288.5,255.4 L292.4,268.4 L297.6,278.9 L302.8,282.8 L309.3,286.6 L314.0,286.6 L319.0,282.4 L324.0,281.1 L329.1,281.9 L335.4,280.6 L340.4,279.1 L345.5,274.8 L349.3,273.0 L352.8,277.7 L356.5,281.5 L360.6,285.5 L364.5,288.8 L368.4,291.9 L370.7,295.5 L372.7,299.8 L376.2,305.4 L379.8,303.7 L384.0,299.0 L389.7,297.6 L395.4,298.3 L401.1,302.6 L405.4,303.6 L409.6,301.2 L415.3,296.9 L420.0,293.3 L424.0,288.3 L430.3,280.7 L436.6,275.7 L441.7,269.4 L446.7,258.0 L451.8,247.9 L455.6,249.1 L460.6,252.9 L465.7,254.4 L470.1,253.6 L473.3,249.1 L475.8,235.2 L479.6,225.1 L483.0,216.5 L487.3,207.7 L491.8,204.7 L496.4,203.8 L501.0,197.1 L506.5,186.4 L513.2,185.8 L518.7,178.2 L522.3,186.4 L526.3,197.7 L529.9,198.9 L536.0,194.6 L540.1,188.5 L546.4,180.9 L550.0,178.0 L553.4,175.2 L557.2,168.3 L562.9,159.4 L567.7,153.6 L574.7,148.1 L581.6,141.1 L586.0,133.3 L588.6,120.3 L592.0,109.9 L596.4,101.2 L599.8,92.5 L602.4,91.1 L604.5,92.8" stroke="#1010f5" stroke-width="1.3" stroke-dasharray="4.4,1.9" fill="none"/>
<path d="M234.7,233.4 L233.9,235.8 L233.5,239.6 L233.8,244.1 L233.8,248.7 L232.6,250.6 L232.5,254.9 L231.9,259.4 L230.9,264.5 L230,268.9 L229.4,271.6" stroke="#fa0505" stroke-width="2.3" stroke-linecap="round" stroke-linejoin="round" fill="none"/>
</svg>
<div class="hdr h2">PLS Short Positions</div>
<svg class="c2" width="633" height="392" viewBox="0 472 633 392" font-family="DejaVu Sans, Liberation Sans, sans-serif">
<path d="M111.9,492V838.4M185.2,492V838.4M259.4,492V838.4M329.7,492V838.4M402.4,492V838.4M475.1,492V838.4M548.4,492V838.4M39.55,536.0H609M39.55,595.5H609M39.55,655.0H609M39.55,714.4H609M39.55,773.9H609M39.55,833.4H609" stroke="#f4f4f4" stroke-width="0.8" fill="none"/>
<path d="M39.55,492V838.4H609" stroke="#444" stroke-width="0.7" fill="none"/>
<path d="M111.9,838.4v2.6M185.2,838.4v2.6M259.4,838.4v2.6M329.7,838.4v2.6M402.4,838.4v2.6M475.1,838.4v2.6M548.4,838.4v2.6M39.55,536.0h-2.6M39.55,595.5h-2.6M39.55,655.0h-2.6M39.55,714.4h-2.6M39.55,773.9h-2.6M39.55,833.4h-2.6" stroke="#555" stroke-width="0.6" fill="none"/>
<text x="112.30000000000001" y="851.1" font-size="7.56" textLength="29.2" lengthAdjust="spacingAndGlyphs" text-anchor="middle" fill="#222">2024-10</text>
<text x="185.6" y="851.1" font-size="7.56" textLength="29.2" lengthAdjust="spacingAndGlyphs" text-anchor="middle" fill="#222">2024-12</text>
<text x="259.79999999999995" y="851.1" font-size="7.56" textLength="29.2" lengthAdjust="spacingAndGlyphs" text-anchor="middle" fill="#222">2025-02</text>
<text x="330.09999999999997" y="851.1" font-size="7.56" textLength="29.2" lengthAdjust="spacingAndGlyphs" text-anchor="middle" fill="#222">2025-04</text>
<text x="402.79999999999995" y="851.1" font-size="7.56" textLength="29.2" lengthAdjust="spacingAndGlyphs" text-anchor="middle" fill="#222">2025-06</text>
<text x="475.5" y="851.1" font-size="7.56" textLength="29.2" lengthAdjust="spacingAndGlyphs" text-anchor="middle" fill="#222">2025-08</text>
<text x="548.8" y="851.1" font-size="7.56" textLength="29.2" lengthAdjust="spacingAndGlyphs" text-anchor="middle" fill="#222">2025-10</text>
<text x="31.5" y="538.4" font-size="6.70" textLength="7.9" lengthAdjust="spacingAndGlyphs" text-anchor="end" fill="#222">20</text>
<text x="31.5" y="597.9" font-size="6.70" textLength="7.9" lengthAdjust="spacingAndGlyphs" text-anchor="end" fill="#222">18</text>
<text x="31.5" y="657.4" font-size="6.70" textLength="7.9" lengthAdjust="spacingAndGlyphs" text-anchor="end" fill="#222">16</text>
<text x="31.5" y="716.8" font-size="6.70" textLength="7.9" lengthAdjust="spacingAndGlyphs" text-anchor="end" fill="#222">14</text>
<text x="31.5" y="776.3" font-size="6.70" textLength="7.9" lengthAdjust="spacingAndGlyphs" text-anchor="end" fill="#222">12</text>
<text x="31.5" y="835.8" font-size="6.70" textLength="7.9" lengthAdjust="spacingAndGlyphs" text-anchor="end" fill="#222">10</text>
<text transform="translate(18.2,665.8) rotate(-90)" font-size="7.2" text-anchor="middle" fill="#222">Value (%)</text>
<text x="324.3" y="483.4" font-size="8.85" text-anchor="middle" fill="#222">12 Month Short % for PLS</text>
<text x="53.1" y="517.2" font-size="7.05" fill="#ababab">stocksunderthehood.com</text>
<path d="M64.9,507.1 L67.6,513.0 L69.7,519.7 L71.1,516.2 L72.4,517.8 L73.8,525.1 L77.0,524.5 L78.6,521.0 L81.0,523.7 L82.6,529.1 L85.1,533.1 L86.9,534.5 L89.6,525.1 L92.3,522.9 L94.5,521.8 L95.3,525.9 L96.6,526.4 L98.8,541.2 L102.0,544.7 L103.9,550.6 L106.0,557.3 L107.9,556.7 L110.6,553.8 L112.4,555.4 L114.1,564.0 L115.4,559.4 L117.3,560.8 L120.0,563.5 L121.3,563.2 L122.7,565.3 L124.5,563.5 L127.5,561.3 L129.9,556.7 L132.1,555.4 L134.2,557.6 L135.8,559.2 L137.4,553.3 L139.3,546.8 L141.5,548.4 L144.1,550.0 L146.3,560.5 L147.4,558.6 L148.7,560.8 L150.9,563.5 L152.5,565.3 L153.5,570.7 L154.9,572.1 L156.2,585.5 L157.3,596.8 L159.5,600.3 L161.6,604.3 L163.5,608.8 L164.8,612.9 L167.0,614.2 L169.1,615.8 L170.5,619.9 L171.5,622.5 L172.9,602.9 L174.2,603.5 L175.0,641.9 L175.8,684.9 L176.1,693.7 L177.5,785.0 L178.3,786.4 L179.9,811.9 L181.2,782.3 L182.8,785.0 L185.8,786.4 L187.4,774.3 L189.5,763.5 L190.9,760.9 L193.6,742.1 L195.5,728.6 L196.8,728.1 L198.7,718.4 L200.8,716.5 L203.0,716.0 L204.3,714.4 L205.7,715.7 L207.5,711.4 L209.7,713.0 L211.6,714.1 L213.7,713.0 L216.4,713.3 L219.1,712.5 L221.2,713.9 L223.4,713.3 L224.5,707.1 L226.1,706.6 L227.7,708.5 L228.8,706.1 L229.8,709.3 L231.2,705.3 L232.8,723.3 L235.2,718.4 L237.1,715.7 L238.7,727.3 L240.6,725.9 L243.3,727.3 L245.4,729.2 L246.7,758.2 L249.2,759.0 L251.3,757.4 L254.0,754.1 L256.1,756.3 L258.3,751.5 L261.0,748.8 L262.1,774.3 L262.9,787.7 L264.7,806.5 L266.1,801.1 L268.0,813.2 L269.6,822.1 L270.9,801.1 L272.0,789.1 L273.3,796.3 L275.5,795.0 L277.6,794.4 L279.5,782.3 L281.4,776.4 L283.0,773.7 L284.9,778.3 L286.5,781.8 L287.8,778.8 L290.0,778.8 L291.1,763.0 L292.9,762.7 L294.3,764.1 L295.6,762.7 L297.5,757.6 L299.7,758.7 L301.3,762.2 L303.1,765.7 L305.0,765.1 L306.9,771.6 L309.0,773.5 L311.7,773.2 L313.1,766.2 L314.2,768.4 L316.0,759.0 L318.5,758.2 L321.1,758.7 L322.8,756.8 L324.4,758.2 L326.2,752.5 L328.1,743.7 L329.7,737.8 L331.3,741.0 L333.4,742.9 L335.6,751.7 L337.2,757.1 L338.8,761.1 L340.9,759.8 L342.6,762.5 L344.7,768.7 L346.3,773.2 L348.2,774.0 L350.1,772.7 L353.6,773.8 L355.7,774.6 L357.1,772.4 L359.5,773.8 L361.4,775.9 L362.7,785.3 L363.8,775.1 L365.1,773.8 L367.0,780.5 L368.9,785.3 L370.5,788.0 L372.4,787.5 L373.7,781.8 L374.8,785.3 L376.9,786.1 L379.1,788.0 L381.0,788.5 L382.3,778.6 L384.5,771.9 L386.6,765.2 L388.5,767.9 L390.6,773.2 L393.0,771.3 L395.2,769.2 L396.5,764.4 L398.4,760.6 L400.0,745.6 L401.9,747.2 L403.8,749.1 L405.9,759.8 L408.1,749.9 L410.5,749.1 L413.2,748.2 L414.3,750.9 L415.6,735.6 L417.5,733.7 L420.4,728.9 L421.8,737.5 L422.9,731.6 L424.7,735.1 L427.4,737.0 L429.6,739.1 L431.2,742.3 L432.3,762.5 L433.6,741.0 L436.0,737.5 L437.6,735.1 L439.5,729.7 L440.8,741.0 L442.5,731.6 L445.2,723.0 L446.2,726.2 L447.6,734.8 L448.9,718.2 L450.2,724.9 L453.5,719.5 L455.6,708.8 L457.5,692.6 L458.6,708.0 L460.5,705.5 L462.3,700.7 L464.5,672.5 L465.8,677.9 L467.2,676.0 L469.1,665.8 L470.5,658.0 L471.5,647.9 L474.2,644.9 L476.6,666.6 L479.0,683.1 L480.5,655.4 L482.0,663.6 L483.8,678.6 L487.2,681.6 L489.9,663.6 L491.7,672.0 L494.1,678.0 L495.9,681.6 L497.1,719.8 L498.6,687.6 L500.1,689.1 L502.5,678.6 L504.3,669.6 L505.5,650.0 L506.7,666.6 L508.5,659.1 L510.6,653.0 L512.1,648.5 L513.6,638.6 L514.8,639.5 L516.9,629.9 L519.1,631.4 L520.9,632.9 L522.1,622.9 L523.0,594.4 L523.9,582.3 L524.8,578.7 L525.7,591.3 L527.2,589.8 L529.3,588.3 L531.1,593.8 L532.3,598.9 L533.2,599.8 L534.1,604.9 L535.6,599.8 L537.4,592.8 L538.9,596.5 L540.4,596.5 L542.2,599.5 L544.3,598.3 L545.8,597.4 L547.0,599.5 L548.2,595.0 L549.4,603.4 L550.6,608.8 L553.4,610.9 L555.8,610.9 L556.7,613.9 L557.6,622.0 L559.1,618.4 L562.7,617.5 L564.2,608.5 L566.3,607.0 L568.1,612.4 L570.2,618.4 L572.3,624.4 L573.8,627.5 L575.0,635.0 L575.9,653.0 L577.7,657.5 L579.5,660.6 L581.3,662.7 L582.5,668.1 L583.4,676.2" stroke="#1f77b4" stroke-width="1.45" stroke-linejoin="round" fill="none"/>
<path d="M224.5,698.7V728.3" stroke="#fa0505" stroke-width="2.1" stroke-linecap="butt" fill="none"/>
<path d="M542.2,501.1H556.7" stroke="#1f77b4" stroke-width="1.4" fill="none"/>
<text x="562.7" y="503.6" font-size="6.95" fill="#222">Percentage</text>
</svg>
</body></html>
